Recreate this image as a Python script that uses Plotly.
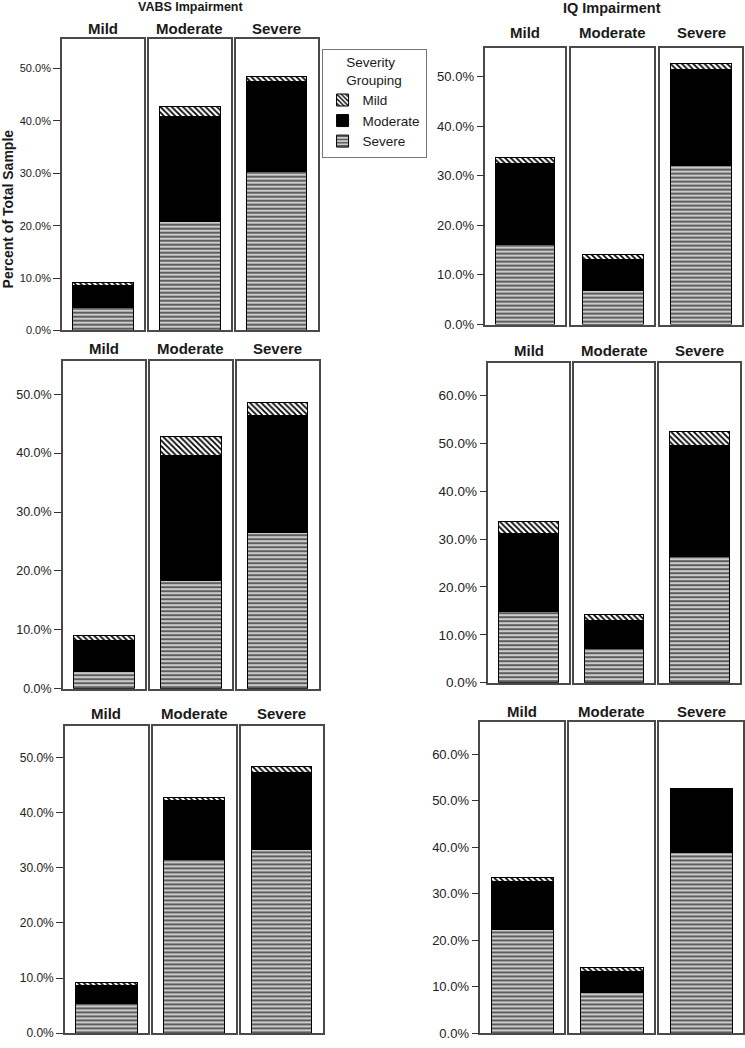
import plotly.graph_objects as go

# ---------------- data (percent of total sample) ----------------
facets = ["Mild", "Moderate", "Severe"]
groups = ["Severe", "Moderate", "Mild"]          # stacking order, bottom to top
panel_titles = ["VABS Impairment", "IQ Impairment"]

# segment sizes per facet [Mild, Moderate, Severe]
vabs_a_severe = [4.4, 20.8, 30.4]
vabs_a_moderate = [4.2, 20.0, 17.2]
vabs_a_mild = [0.5, 1.9, 0.9]

iq_a_severe = [16.2, 6.9, 32.1]
iq_a_moderate = [16.2, 6.3, 19.2]
iq_a_mild = [1.3, 1.0, 1.4]

vabs_b_severe = [3.0, 18.3, 26.6]
vabs_b_moderate = [5.2, 21.3, 19.8]
vabs_b_mild = [0.8, 3.2, 2.2]

iq_b_severe = [14.9, 7.1, 26.4]
iq_b_moderate = [16.3, 5.9, 23.2]
iq_b_mild = [2.4, 1.3, 2.8]

vabs_c_severe = [5.4, 31.5, 33.4]
vabs_c_moderate = [3.2, 10.7, 14.0]
vabs_c_mild = [0.5, 0.6, 1.0]

iq_c_severe = [22.2, 8.8, 38.9]
iq_c_moderate = [10.4, 4.5, 13.6]
iq_c_mild = [0.9, 0.9, 0.0]

y_tick_vals = [0, 10, 20, 30, 40, 50, 60]

# ---------------- layout geometry (pixels) ----------------
W, H = 745, 1048
FONT = "Liberation Sans, Arial, sans-serif"

panels = [
    dict(data=(vabs_a_severe, vabs_a_moderate, vabs_a_mild),
         boxes=[(62, 144), (149, 231), (236, 318)], top=39, bottom=333, ymax=55.7,
         tickfont=11, labely=29),
    dict(data=(iq_a_severe, iq_a_moderate, iq_a_mild),
         boxes=[(486, 566), (572, 655), (661, 743)], top=48, bottom=327, ymax=55.8,
         tickfont=13, labely=33),
    dict(data=(vabs_b_severe, vabs_b_moderate, vabs_b_mild),
         boxes=[(63, 145), (150, 232), (237, 319)], top=364, bottom=694, ymax=55.6,
         tickfont=12.5, labely=351),
    dict(data=(iq_b_severe, iq_b_moderate, iq_b_mild),
         boxes=[(489, 570), (575, 655), (660, 741)], top=366, bottom=688, ymax=66.7,
         tickfont=13.5, labely=353),
    dict(data=(vabs_c_severe, vabs_c_moderate, vabs_c_mild),
         boxes=[(65, 148), (153, 236), (241, 323)], top=732, bottom=1041, ymax=55.7,
         tickfont=12, labely=719),
    dict(data=(iq_c_severe, iq_c_moderate, iq_c_mild),
         boxes=[(481, 565), (570, 655), (660, 744)], top=728, bottom=1041, ymax=66.8,
         tickfont=13, labely=717),
]

styles = {
    "Severe": dict(color="#cccccc",
                   pattern=dict(shape="-", fgcolor="#5e5e5e", bgcolor="#cccccc",
                                size=4, solidity=0.5, fillmode="replace")),
    "Moderate": dict(color="black"),
    "Mild": dict(color="white",
                 pattern=dict(shape="\\", fgcolor="black", bgcolor="white",
                              size=4, solidity=0.45, fillmode="replace")),
}

fig = go.Figure()
layout = dict(
    width=W, height=H, margin=dict(l=0, r=0, t=0, b=0),
    paper_bgcolor="white", plot_bgcolor="white",
    barmode="stack", bargap=0.26,
    font=dict(family=FONT, color="#1a1a1a"),
    showlegend=True,
)
annotations = []

ax = 0
for pi, p in enumerate(panels):
    for fi, (x0, x1) in enumerate(p["boxes"]):
        ax += 1
        xa = "x" if ax == 1 else f"x{ax}"
        ya = "y" if ax == 1 else f"y{ax}"
        for gi, g in enumerate(groups):
            vals = p["data"][gi]
            st = styles[g]
            marker = dict(color=st["color"], line=dict(color="black", width=1))
            if "pattern" in st:
                marker["pattern"] = st["pattern"]
            fig.add_trace(go.Bar(
                x=[facets[fi]], y=[vals[fi]], name=g, marker=marker,
                xaxis=xa, yaxis=ya, legendgroup=g,
                showlegend=(ax == 1), width=0.74,
            ))
        first = fi == 0
        layout["xaxis" if ax == 1 else f"xaxis{ax}"] = dict(
            domain=[x0 / W, x1 / W], anchor=ya, showticklabels=False, ticks="",
            showline=True, mirror=True, linecolor="#4a4a4a", linewidth=1.5,
            showgrid=False, zeroline=False, fixedrange=True,
        )
        layout["yaxis" if ax == 1 else f"yaxis{ax}"] = dict(
            domain=[1 - p["bottom"] / H, 1 - p["top"] / H], anchor=xa,
            range=[0, p["ymax"]], tickvals=y_tick_vals,
            ticktext=[f"{v:.1f}%" for v in y_tick_vals],
            showticklabels=first, ticks="outside" if first else "",
            ticklen=7, tickcolor="#333", tickwidth=1,
            tickfont=dict(size=p["tickfont"], family=FONT, color="#222"),
            showline=True, mirror=True, linecolor="#4a4a4a", linewidth=1.5,
            showgrid=False, zeroline=False, fixedrange=True,
        )
        annotations.append(dict(
            text=f"<b>{facets[fi]}</b>", x=(x0 + x1) / 2 / W, y=1 - p["labely"] / H,
            xref="paper", yref="paper", showarrow=False, xanchor="center",
            yanchor="middle", font=dict(size=15, family=FONT, color="#1a1a1a"),
        ))

annotations.append(dict(text=f"<b>{panel_titles[0]}</b>", x=191 / W, y=1 - 7 / H,
                        xref="paper", yref="paper", showarrow=False,
                        xanchor="center", yanchor="middle",
                        font=dict(size=12.5, family=FONT, color="#1a1a1a")))
annotations.append(dict(text=f"<b>{panel_titles[1]}</b>", x=613 / W, y=1 - 8 / H,
                        xref="paper", yref="paper", showarrow=False,
                        xanchor="center", yanchor="middle",
                        font=dict(size=14.5, family=FONT, color="#1a1a1a")))
annotations.append(dict(text="<b>Percent of Total Sample</b>", x=8 / W, y=1 - 210 / H,
                        xref="paper", yref="paper", showarrow=False, textangle=-90,
                        xanchor="center", yanchor="middle",
                        font=dict(size=14, family=FONT, color="#1a1a1a")))

layout["annotations"] = annotations
layout["legend"] = dict(
    x=322 / W, y=1 - 49 / H, xanchor="left", yanchor="top",
    bgcolor="white", bordercolor="#777", borderwidth=1,
    traceorder="reversed", itemwidth=30,
    title=dict(text="Severity<br>Grouping", side="top center",
               font=dict(size=13.5, family=FONT, color="#1a1a1a")),
    font=dict(size=13.5, family=FONT, color="#1a1a1a"),
    tracegroupgap=0,
)
fig.update_layout(**layout)
fig.write_html(
    "out.html",
    config={"displayModeBar": False},
    post_script="document.body.style.margin='0';document.body.style.overflow='hidden';",
)
